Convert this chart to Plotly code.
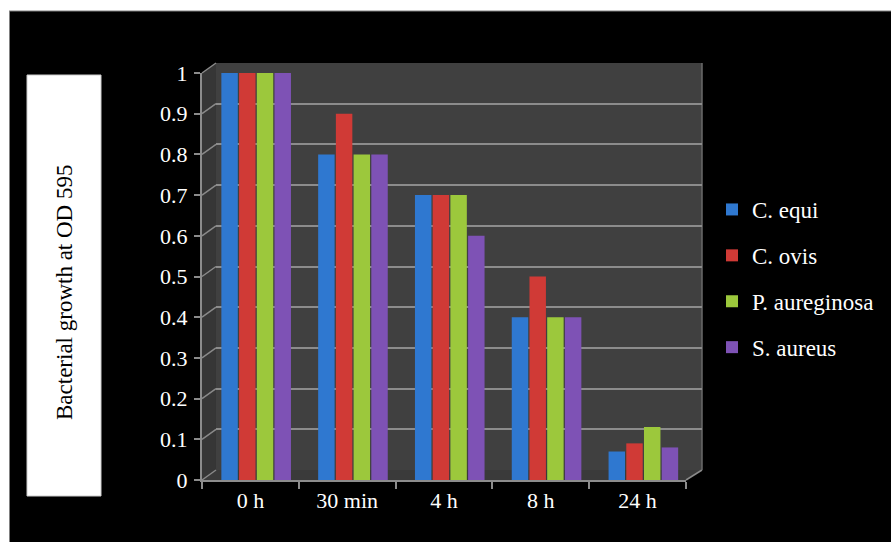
import plotly.graph_objects as go

categories = ["0 h", "30 min", "4 h", "8 h", "24 h"]
c_equi = [1.0, 0.8, 0.7, 0.4, 0.07]
c_ovis = [1.0, 0.9, 0.7, 0.5, 0.09]
p_aeru = [1.0, 0.8, 0.7, 0.4, 0.13]
s_aureus = [1.0, 0.8, 0.6, 0.4, 0.08]
series_names = ["C. equi", "C. ovis", "P. aureginosa", "S. aureus"]
y_tick_vals = [0, 0.1, 0.2, 0.3, 0.4, 0.5, 0.6, 0.7, 0.8, 0.9, 1]
y_tick_text = ["0", "0.1", "0.2", "0.3", "0.4", "0.5", "0.6", "0.7", "0.8", "0.9", "1"]
y_title = "Bacterial growth at OD 595"

W, H = 891, 542
FONT = "Liberation Serif"


def px(x):
    return x / W


def py(y):
    return 1 - y / H


# front axes (pixels)
FX0, FX1, FY0, FY1 = 202, 686, 480, 73
# back wall (pixels)
BX0, BX1, BY0, BY1 = 216, 702, 470, 63

colors = ["#2f78d0", "#d03a36", "#9cc83c", "#7e52b5"]
offsets = [-0.30, -0.117, 0.066, 0.249]
values = [c_equi, c_ovis, p_aeru, s_aureus]

fig = go.Figure()

# invisible trace to keep the back-wall subplot
fig.add_trace(go.Scatter(x=[0, 1], y=[None, None], xaxis="x", yaxis="y",
                         showlegend=False, hoverinfo="skip"))

for i, (name, vals) in enumerate(zip(series_names, values)):
    fig.add_trace(go.Bar(
        x=categories, y=vals, name=name,
        xaxis="x2", yaxis="y2",
        marker=dict(color=colors[i], line=dict(width=0)),
        width=0.17, offset=offsets[i],
        legendgroup=name,
    ))

shapes = []
# white outer strips
shapes.append(dict(type="rect", xref="paper", yref="paper", x0=0, x1=px(9), y0=0, y1=1,
                   fillcolor="white", line=dict(width=0), layer="above"))
shapes.append(dict(type="rect", xref="paper", yref="paper", x0=0, x1=1, y0=py(11), y1=1,
                   fillcolor="white", line=dict(width=0), layer="above"))
shapes.append(dict(type="line", xref="paper", yref="paper", x0=px(9.5), x1=px(9.5), y0=0, y1=py(11),
                   line=dict(color="#808080", width=1), layer="above"))
shapes.append(dict(type="line", xref="paper", yref="paper", x0=px(9), x1=1, y0=py(11), y1=py(11),
                   line=dict(color="#808080", width=1), layer="above"))


def poly(pts):
    return "M " + " L ".join(f"{px(x):.5f},{py(y):.5f}" for x, y in pts) + " Z"


# back wall
shapes.append(dict(type="path", xref="paper", yref="paper",
                   path=poly([(BX0, BY1), (BX1, BY1), (BX1, BY0), (BX0, BY0)]),
                   fillcolor="#404040", line=dict(width=0), layer="below"))
# side wall
shapes.append(dict(type="path", xref="paper", yref="paper",
                   path=poly([(FX0, FY1), (BX0, BY1), (BX0, BY0), (FX0, FY0)]),
                   fillcolor="#363636", line=dict(width=0), layer="below"))
# floor
shapes.append(dict(type="path", xref="paper", yref="paper",
                   path=poly([(FX0, FY0), (BX0, BY0), (BX1, BY0), (FX1, FY0)]),
                   fillcolor="#3a3a3a", line=dict(width=0), layer="below"))
# slanted side-wall tick lines
for v in y_tick_vals:
    yf = FY0 - v * (FY0 - FY1)
    yb = BY0 - v * (BY0 - BY1)
    shapes.append(dict(type="line", xref="paper", yref="paper",
                       x0=px(FX0), y0=py(yf), x1=px(BX0), y1=py(yb),
                       line=dict(color="#8a8a8a", width=1.5), layer="below"))
# floor right edge and back wall right edge
shapes.append(dict(type="line", xref="paper", yref="paper",
                   x0=px(FX1), y0=py(FY0), x1=px(BX1), y1=py(BY0),
                   line=dict(color="#8a8a8a", width=1.5), layer="below"))
shapes.append(dict(type="line", xref="paper", yref="paper",
                   x0=px(BX1), y0=py(BY0), x1=px(BX1), y1=py(BY1),
                   line=dict(color="#6a6a6a", width=1.5), layer="below"))

# y-title box
shapes.append(dict(type="rect", xref="paper", yref="paper",
                   x0=px(27), x1=px(101), y0=py(496), y1=py(75),
                   fillcolor="white", line=dict(color="#cccccc", width=1), layer="above"))

annotations = [dict(text=y_title, xref="paper", yref="paper", x=px(64), y=py(293),
                    textangle=-90, showarrow=False, xanchor="center", yanchor="middle",
                    font=dict(family=FONT, size=23, color="black"))]

fig.update_layout(
    width=W, height=H,
    margin=dict(l=0, r=0, t=0, b=0, autoexpand=False),
    paper_bgcolor="black",
    plot_bgcolor="rgba(0,0,0,0)",
    barmode="overlay",
    shapes=shapes,
    annotations=annotations,
    showlegend=True,
    legend=dict(x=px(712), y=py(188), xanchor="left", yanchor="top",
                font=dict(family=FONT, size=23, color="white"),
                bgcolor="rgba(0,0,0,0)", tracegroupgap=13, itemclick=False),
    xaxis=dict(domain=[px(BX0), px(BX1)], range=[0, 1], anchor="y",
               showgrid=False, zeroline=False, showticklabels=False, ticks="", showline=False,
               fixedrange=True, automargin=False),
    yaxis=dict(domain=[py(BY0), py(BY1)], range=[0, 1], anchor="x",
               tickvals=y_tick_vals, showgrid=True, gridcolor="#8c8c8c", gridwidth=2,
               zeroline=False, showticklabels=False, ticks="", showline=False, fixedrange=True,
               automargin=False),
    xaxis2=dict(domain=[px(FX0), px(FX1)], anchor="y2", type="category",
                range=[-0.5, 4.5], showgrid=False, zeroline=False,
                showline=True, linecolor="#8c8c8c", linewidth=2,
                ticks="outside", tickson="boundaries", ticklen=7, tickcolor="#8c8c8c", tickwidth=2,
                tickfont=dict(family=FONT, size=22, color="white"), fixedrange=True,
                automargin=False),
    yaxis2=dict(domain=[py(FY0), py(FY1)], anchor="x2", range=[0, 1],
                tickvals=y_tick_vals, ticktext=y_tick_text,
                showgrid=False, zeroline=False,
                showline=True, linecolor="#8c8c8c", linewidth=2,
                ticks="outside", ticklen=6, tickcolor="#8c8c8c", tickwidth=2,
                ticklabelstandoff=2,
                tickfont=dict(family=FONT, size=22, color="white"), fixedrange=True,
                automargin=False),
)

fig.write_html(
    "out.html",
    config={"displayModeBar": False},
    post_script="document.body.style.margin='0';document.body.style.overflow='hidden';",
)
